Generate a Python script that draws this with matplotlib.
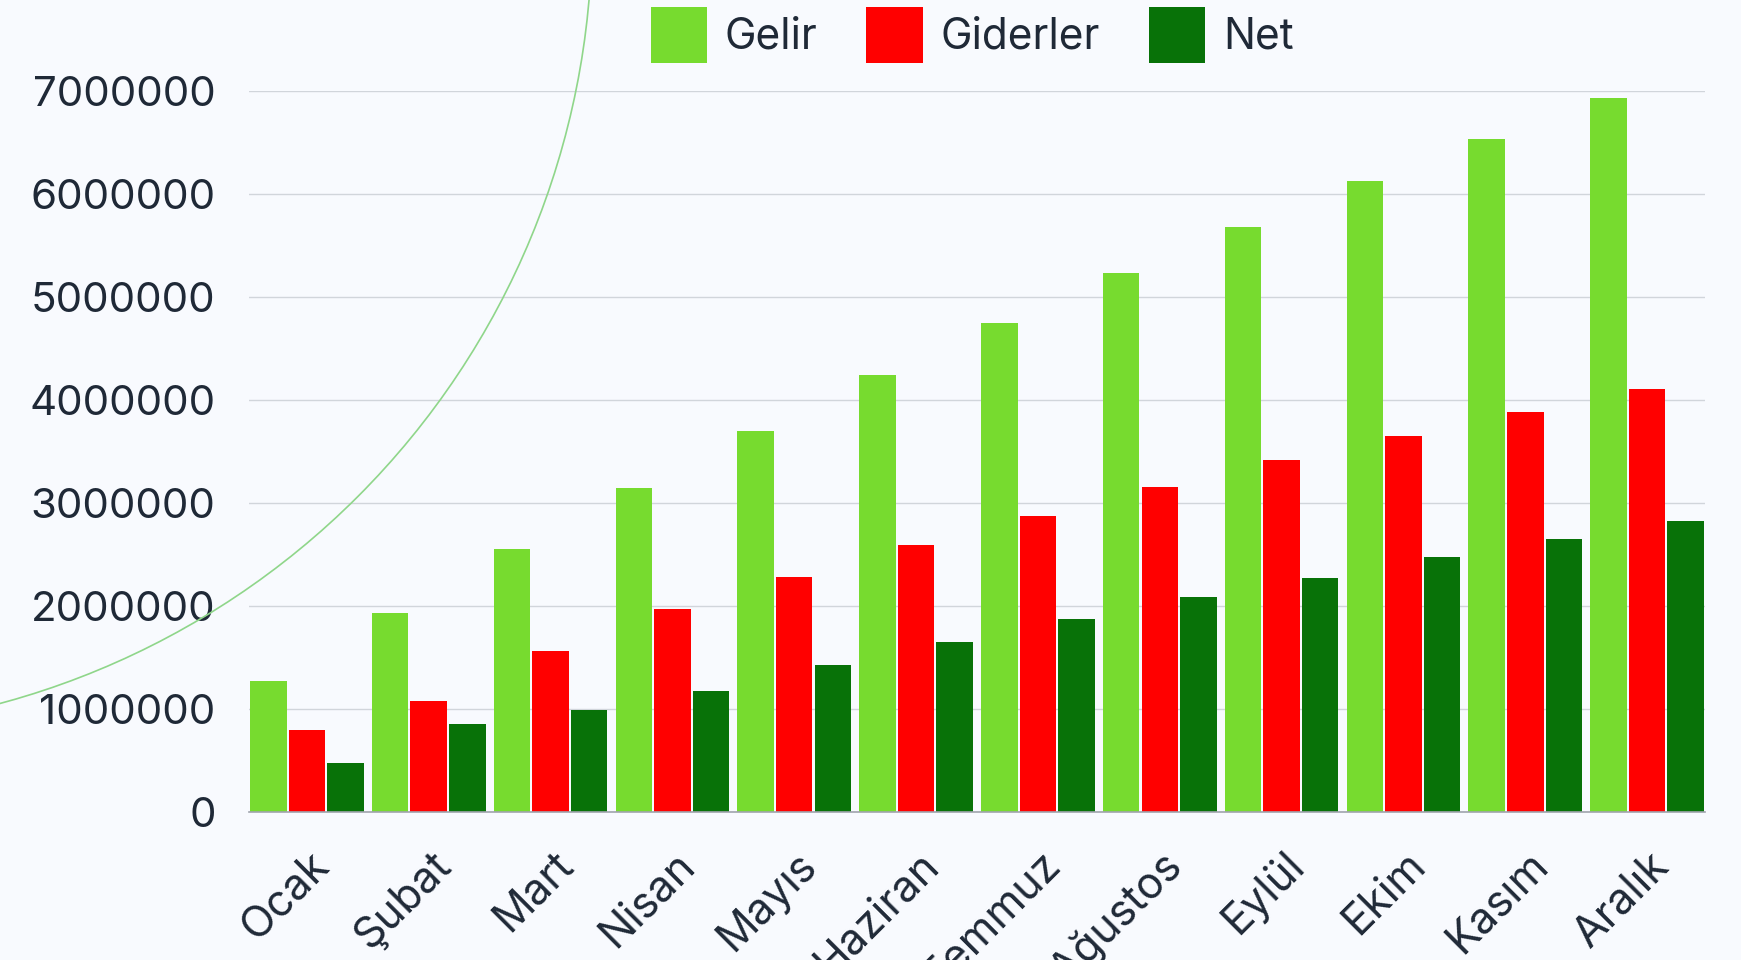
import matplotlib
matplotlib.use("Agg")
import matplotlib.pyplot as plt
import numpy as np
from matplotlib.patches import Patch, Ellipse
from matplotlib.transforms import ScaledTranslation

months = ["Ocak", "Şubat", "Mart", "Nisan", "Mayıs", "Haziran", "Temmuz",
          "Ağustos", "Eylül", "Ekim", "Kasım", "Aralık"]
gelir = [1270000, 1925000, 2550000, 3140000, 3700000, 4240000, 4745000,
         5230000, 5680000, 6120000, 6530000, 6925000]
giderler = [795000, 1075000, 1560000, 1970000, 2280000, 2590000, 2870000,
            3150000, 3410000, 3645000, 3880000, 4105000]
net = [475000, 850000, 990000, 1170000, 1420000, 1650000, 1875000,
       2080000, 2270000, 2475000, 2650000, 2820000]
series_names = ["Gelir", "Giderler", "Net"]
colors = ["#77db2f", "#ff0000", "#087208"]
yticks = [0, 1000000, 2000000, 3000000, 4000000, 5000000, 6000000, 7000000]

bg = "#f8fafe"
text_color = "#1f2937"
plt.rcParams['font.family'] = ['Inter', 'DejaVu Sans']

W, H = 1741, 960
fig = plt.figure(figsize=(W / 100, H / 100), dpi=100, facecolor=bg)

# decorative arc
r = 800
arc = Ellipse((-208 / W, 1 + 69 / H), 2 * r / W, 2 * r / H, transform=fig.transFigure,
              fill=False, edgecolor="#8fd68a", linewidth=1.2, zorder=0)
fig.patches.append(arc)

ax = fig.add_axes([249 / W, 1 - 811.7 / H, (1705 - 249) / W, (811.7 - 90.7) / H])
ax.set_facecolor("none")

x = np.arange(len(months))
w = 0.3167
for k, (vals, c) in enumerate(zip([gelir, giderler, net], colors)):
    ax.bar(x + (k - 1) * w, vals, width=w * 0.945, color=c, zorder=3, linewidth=0)

ax.set_xlim(-1.5 * w, len(months) - 1 + 1.5 * w)
ax.set_ylim(0, 7000000)
ax.set_yticks(yticks)
ax.set_yticklabels([str(v) for v in yticks], fontsize=30.3, color=text_color)
ax.yaxis.grid(True, color="#d1d5db", linewidth=1.0, zorder=0)
ax.set_axisbelow(True)
for s in ["top", "right", "left"]:
    ax.spines[s].set_visible(False)
ax.spines["bottom"].set_color("#a0a4ad")
ax.spines["bottom"].set_linewidth(1.2)
ax.spines["bottom"].set_zorder(4)
ax.tick_params(axis="both", length=0)
ax.tick_params(axis="y", pad=24)

ax.set_xticks(x)
ax.set_xticklabels(months, rotation=45, ha="right", va="center",
                   rotation_mode="anchor", fontsize=31, color=text_color)
ax.tick_params(axis="x", pad=34)
off = ScaledTranslation(0.16, 0, fig.dpi_scale_trans)
for lab in ax.get_xticklabels():
    lab.set_transform(lab.get_transform() + off)

handles = [Patch(facecolor=c, edgecolor="none", label=n) for c, n in zip(colors, series_names)]
fig.legend(handles=handles, loc="center", bbox_to_anchor=(972 / W, 1 - 35 / H),
           ncol=3, frameon=False, fontsize=30.5, handlelength=1.33, handleheight=1.65,
           handletextpad=0.42, columnspacing=1.15, labelcolor=text_color,
           borderpad=0, borderaxespad=0)

fig.savefig("out.png", dpi=100, facecolor=bg)
